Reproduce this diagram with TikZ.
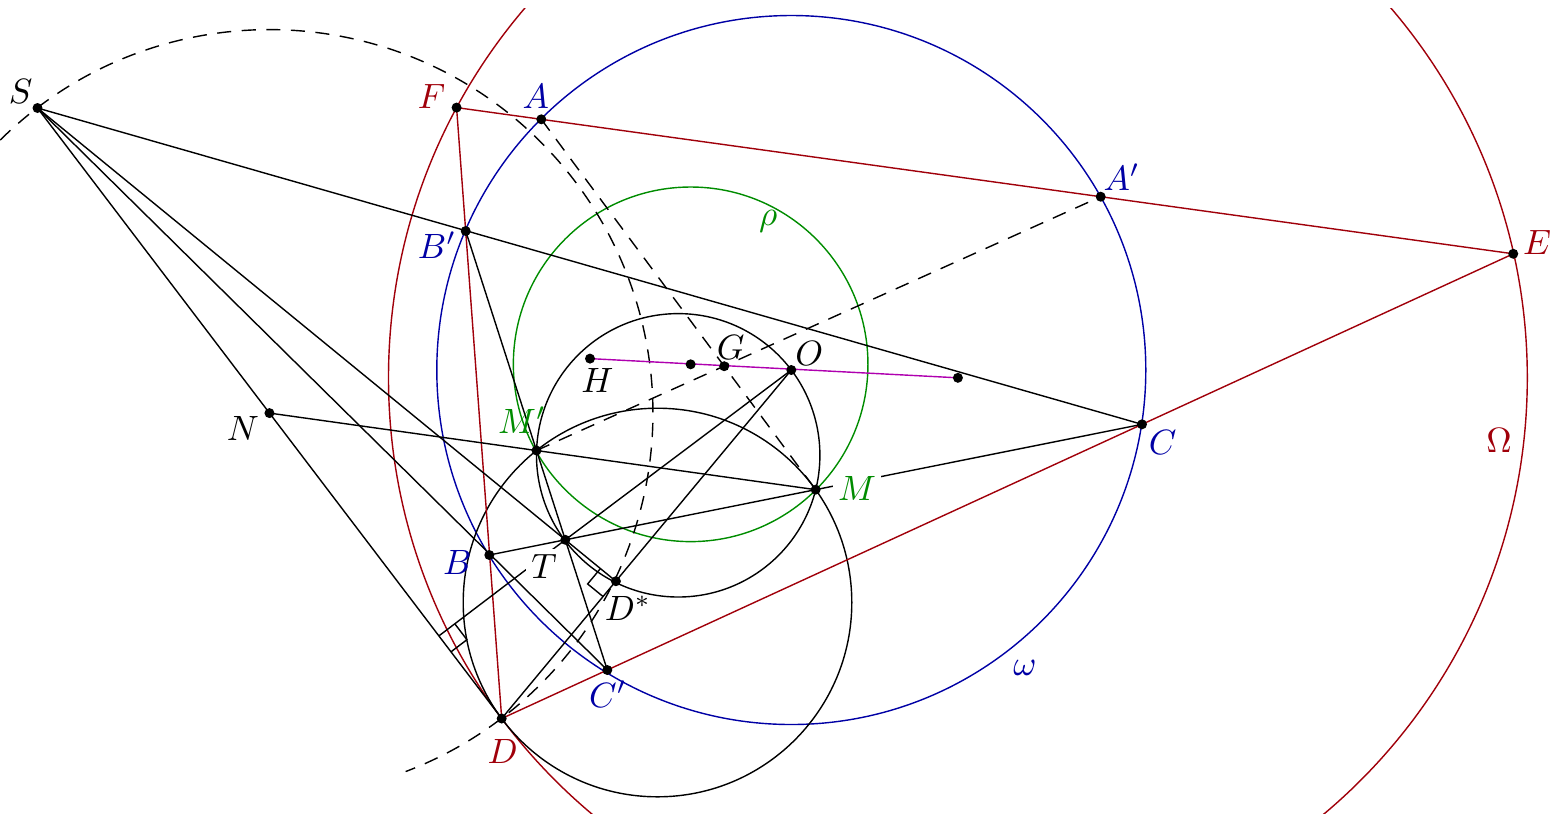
\documentclass[tikz,border=0pt]{standalone}
\usepackage{amsmath, amssymb}
\usepackage{xcolor}
\usepackage{tikz}
\usetikzlibrary{calc}

\definecolor{omred}{RGB}{160,0,10}
\definecolor{omblue}{RGB}{0,0,165}
\definecolor{rhogreen}{RGB}{0,140,0}
\definecolor{eulpurple}{RGB}{175,0,175}

% right angle mark at #1 between the rays to #2 and #3
\newcommand{\rangmark}[3]{%
  \draw ($(#1)!0.2cm!(#2)$) -- ($(#1)!0.2cm!(#2)+(#1)!0.2cm!(#3)-(#1)$) -- ($(#1)!0.2cm!(#3)$);}

\begin{document}
\begin{tikzpicture}[x=0.01cm,y=0.01cm,
    lbl/.style={fill=white,inner sep=1.5pt},
    dashline/.style={dash pattern=on 4pt off 3pt}]
      \def\romega{354.5}
      \def\rrho{177.3}
      \def\rOmega{569.4}

      \useasboundingbox (0,0) rectangle (1560,-826);

      % points
      \coordinate (S) at (37.5,-108);
      \coordinate (A) at (541.3,-119.3);
      \coordinate (B) at (489.3,-555);
      \coordinate (C) at (1142,-424.3);
      \coordinate (Ap) at (1100.7,-196.7);
      \coordinate (Bp) at (465.7,-231);
      \coordinate (Cp) at (607.3,-670);
      \coordinate (O) at (791.3,-370);
      \coordinate (D) at (501.7,-718.5);
      \coordinate (Oo) at (957.9,-377.8);
      \coordinate (E) at (intersection of A--Ap and C--Cp);
      \coordinate (F) at (intersection of A--Ap and D--Bp);
      \coordinate (M) at ($(B)!0.5!(C)$);
      \coordinate (Mp) at ($(Bp)!0.5!(Cp)$);
      \coordinate (H) at ($(A)+(B)+(C)-2*(O)$);
      \coordinate (G) at ($(H)!0.6667!(O)$);
      \coordinate (N9) at ($(H)!0.5!(O)$);
      \coordinate (T) at (intersection of B--M and Mp--Cp);
      \coordinate (Ds) at (intersection of S--T and D--O);
      \coordinate (N) at (intersection of S--D and Mp--M);
      \coordinate (Ft) at ($(S)!(T)!(D)$);
      \coordinate (K1) at (678.2,-455.3);
      \coordinate (K2) at (657.5,-602.5);

      % circles
      \begin{scope}
        \clip (0,-8) rectangle (1560,-813);
        \draw[omred] (Oo) circle (\rOmega);
      \end{scope}
      \draw[omblue] (O) circle (\romega);
      \draw[rhogreen] (N9) circle (\rrho);
      \draw (K1) circle (141.7);
      \draw (K2) circle (194.3);
      \draw[dashline] ($(N)+(134.6:383.5)$) arc[start angle=134.6, end angle=-69.2, radius=383.5];

      % triangle DEF
      \draw[omred] (F) -- (E) -- (D) -- cycle;

      % lines
      \draw (S) -- (C);
      \draw (S) -- (Ds);
      \draw (S) -- (Cp);
      \draw (S) -- (D);
      \draw (Bp) -- (Mp);
      \draw (N) -- (M);
      \draw (M) -- (C);
      \draw (B) -- (M);
      \draw (T) -- (O);
      \draw (D) -- (O);
      \draw (Mp) -- (Cp);
      \draw (T) -- (Ft);
      \draw[dashline] (A) -- (M);
      \draw[dashline] (Mp) -- (Ap);
      \draw[eulpurple] (H) -- (Oo);

      \rangmark{Ds}{S}{D}
      \rangmark{Ft}{T}{D}

      % dots
      \foreach \p in {S,F,A,Ap,E,Bp,H,N9,G,O,Oo,N,Mp,C,M,T,B,Ds,Cp,D}
        \fill (\p) circle (5);

      % labels
      \node (lS) at (20.7,-91.7) {$S$};
      \node[omred] (lF) at (431.7,-96.7) {$F$};
      \node[omblue] (lA) at (535.7,-96) {$A$};
      \node[omblue] (lAp) at (1121.7,-177) {$A'$};
      \node[omred] (lE) at (1537,-242.7) {$E$};
      \node[omblue] (lBp) at (437,-245) {$B'$};
      \node[rhogreen] (lrho) at (768.3,-221) {$\rho$};
      \node (lG) at (730.7,-347.3) {$G$};
      \node (lO) at (809.3,-353.3) {$O$};
      \node (lH) at (597.3,-380.7) {$H$};
      \node (lN) at (243,-428) {$N$};
      \node[rhogreen] (lMp) at (522,-420) {$M'$};
      \node[omblue] (lC) at (1162.7,-442.7) {$C$};
      \node[lbl,text=rhogreen] (lM) at (857,-488) {$M$};
      \node[omred] (lOmega) at (1499,-440) {$\Omega$};
      \node[omblue] (lB) at (457.3,-562.7) {$B$};
      \node[lbl] (lT) at (544,-566.7) {$T$};
      \node (lDs) at (628,-608) {$D^*$};
      \node[omblue] (lomega) at (1025,-668) {$\omega$};
      \node[omblue] (lCp) at (608,-694) {$C'$};
      \node[omred] (lD) at (502.7,-751.3) {$D$};
    \end{tikzpicture}
\end{document}
